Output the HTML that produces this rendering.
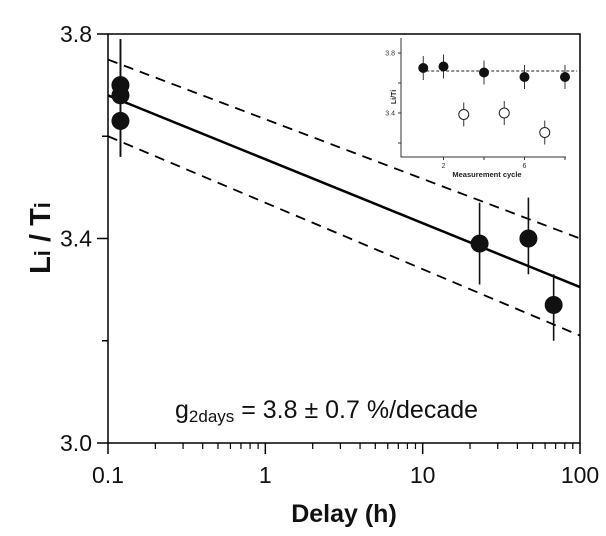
<!DOCTYPE html>
<html><head><meta charset="utf-8"><style>
body{margin:0;background:#fff;}
svg{display:block;font-family:"Liberation Sans",Arial,sans-serif;}
</style></head><body>
<svg id="chart" width="606" height="536" viewBox="0 0 606 536" xmlns="http://www.w3.org/2000/svg">
<g id="main"></g>
<g id="inset"></g>
</svg>
<script>
// Main chart data
const delays = [0.12, 0.12, 0.12, 23, 47, 68];
const ratios = [3.70, 3.68, 3.63, 3.39, 3.40, 3.27];
const errLow = [3.56, 3.56, 3.56, 3.31, 3.33, 3.20];
const errHigh = [3.79, 3.79, 3.79, 3.47, 3.48, 3.33];
const fitEnds = [3.68, 3.305];
const upperEnds = [3.75, 3.40];
const lowerEnds = [3.60, 3.21];
const yTicks = [3.0, 3.4, 3.8];
const yMinor = [3.2, 3.6];
const xTicks = [0.1, 1, 10, 100];
const xTickLabels = ["0.1", "1", "10", "100"];
// Inset data
const cycles = [1, 2, 4, 6, 8];
const cycleVals = [3.70, 3.71, 3.67, 3.64, 3.64];
const openCycles = [3, 5, 7];
const openVals = [3.39, 3.40, 3.27];
const insetErr = 0.08;
const insetMean = 3.68;
const insetYTicks = [3.4, 3.8];
const insetYMinor = [3.2, 3.6];
const insetXTicks = [2, 4, 6, 8];
const insetXLabels = ["2", "", "6", ""];

const NS = "http://www.w3.org/2000/svg";
function mk(parent, tag, attrs){const e=document.createElementNS(NS,tag);for(const k in attrs)e.setAttribute(k,attrs[k]);parent.appendChild(e);return e;}

const L=108,R=580,T=34,B=443;
const X=v=>L+(Math.log10(v)+1)/3*(R-L);
const Y=v=>B-(v-3.0)/0.8*(B-T);
const g=document.getElementById('main');

let e;
e=mk(g,'rect',{x:L,y:T,width:R-L,height:B-T,fill:'none',stroke:'#000','stroke-width':1.5});


yTicks.forEach(v=>{
 e=mk(g,'line',{x1:L-11,x2:L,y1:Y(v),y2:Y(v),stroke:'#000','stroke-width':1.5});
 
 
 e=mk(g,'text',{x:L-16,y:Y(v)+8,'text-anchor':'end','font-size':23,fill:'#111'});
 e.textContent=v.toFixed(1);
 
 
});
yMinor.forEach(v=>{
 e=mk(g,'line',{x1:L-6,x2:L,y1:Y(v),y2:Y(v),stroke:'#000','stroke-width':1.5});
 
 
});
xTicks.forEach((v,i)=>{
 e=mk(g,'line',{x1:X(v),x2:X(v),y1:B,y2:B+11,stroke:'#000','stroke-width':1.5});
 
 
 e=mk(g,'text',{x:X(v),y:B+40,'text-anchor':'middle','font-size':23,fill:'#111'});
 e.textContent=xTickLabels[i];
 
 
});
for(let d=0.1;d<100;d*=10){for(let m=2;m<=9;m++){
 e=mk(g,'line',{x1:X(d*m),x2:X(d*m),y1:B,y2:B+6,stroke:'#000','stroke-width':1.2});
 
 
}}
// fit and confidence lines
[[fitEnds,'none',2.5,'fit-line'],[upperEnds,'10,7',1.8,'upper-confidence-line'],[lowerEnds,'10,7',1.8,'lower-confidence-line']].forEach(c=>{
 e=mk(g,'line',{x1:X(0.1),y1:Y(c[0][0]),x2:X(100),y2:Y(c[0][1]),stroke:'#000','stroke-width':c[2],'stroke-dasharray':c[1]});
 
 
});
delays.forEach((d,i)=>{
 e=mk(g,'line',{x1:X(d),x2:X(d),y1:Y(errLow[i]),y2:Y(errHigh[i]),stroke:'#111','stroke-width':1.6});
 
 
});
delays.forEach((d,i)=>{
 e=mk(g,'circle',{cx:X(d),cy:Y(ratios[i]),r:9,fill:'#111'});
 
 
});
e=mk(g,'text',{x:175,y:418,'font-size':25,fill:'#111'});
e.innerHTML='g<tspan font-size="17" dy="4">2days</tspan><tspan dy="-4"> = 3.8 ± 0.7 %/decade</tspan>';


e=mk(g,'text',{x:(L+R)/2,y:522,'text-anchor':'middle','font-size':25,'font-weight':'bold',fill:'#111'});
e.textContent='Delay (h)';


e=mk(g,'text',{x:0,y:0,'text-anchor':'middle','font-size':29,'font-weight':'bold',fill:'#111',transform:'translate(50,238) rotate(-90)'});
e.innerHTML='L<tspan font-size="22">i</tspan> / T<tspan font-size="22">i</tspan>';



// inset
const gi=document.getElementById('inset');
const iL=401,iR=573,iT=38,iB=157;
const IX=v=>403+v*20.25;
const IY=v=>113-(v-3.4)/0.4*60;
e=mk(gi,'polyline',{points:`${iL},${iT} ${iL},${iB} ${IX(8)+1},${iB}`,fill:'none',stroke:'#333','stroke-width':1});


insetYTicks.concat(insetYMinor).forEach(v=>{
 e=mk(gi,'line',{x1:iL-3,x2:iL,y1:IY(v),y2:IY(v),stroke:'#333','stroke-width':1});
 
 
});
insetYTicks.forEach(v=>{
 e=mk(gi,'text',{x:iL-6,y:IY(v)+2.5,'text-anchor':'end','font-size':7,fill:'#333'});
 e.textContent=v.toFixed(1);
 
 
});
insetXTicks.forEach((v,i)=>{
 e=mk(gi,'line',{x1:IX(v),x2:IX(v),y1:iB,y2:iB+3,stroke:'#333','stroke-width':1});
 
 
 e=mk(gi,'text',{x:IX(v),y:iB+11,'text-anchor':'middle','font-size':7,fill:'#333'});
 e.textContent=insetXLabels[i];
 
 
});
e=mk(gi,'text',{x:487,y:177,'text-anchor':'middle','font-size':7.5,'font-weight':'bold',fill:'#222'});
e.textContent='Measurement cycle';


e=mk(gi,'text',{x:0,y:0,'text-anchor':'middle','font-size':7,'font-weight':'bold',fill:'#222',transform:'translate(396,97) rotate(-90)'});
e.textContent='Li/Ti';


e=mk(gi,'line',{x1:IX(0.9),x2:IX(8.6),y1:IY(insetMean),y2:IY(insetMean),stroke:'#222','stroke-width':1,'stroke-dasharray':'3,2'});


cycles.forEach((c,i)=>{
 e=mk(gi,'line',{x1:IX(c),x2:IX(c),y1:IY(cycleVals[i]-insetErr),y2:IY(cycleVals[i]+insetErr),stroke:'#333','stroke-width':1});
 
 
 e=mk(gi,'circle',{cx:IX(c),cy:IY(cycleVals[i]),r:5,fill:'#111'});
 
 
});
openCycles.forEach((c,i)=>{
 e=mk(gi,'line',{x1:IX(c),x2:IX(c),y1:IY(openVals[i]-insetErr),y2:IY(openVals[i]+insetErr),stroke:'#333','stroke-width':1});
 
 
 e=mk(gi,'circle',{cx:IX(c),cy:IY(openVals[i]),r:5,fill:'#fff',stroke:'#222','stroke-width':1});
 
 
});
</script>
</body></html>
